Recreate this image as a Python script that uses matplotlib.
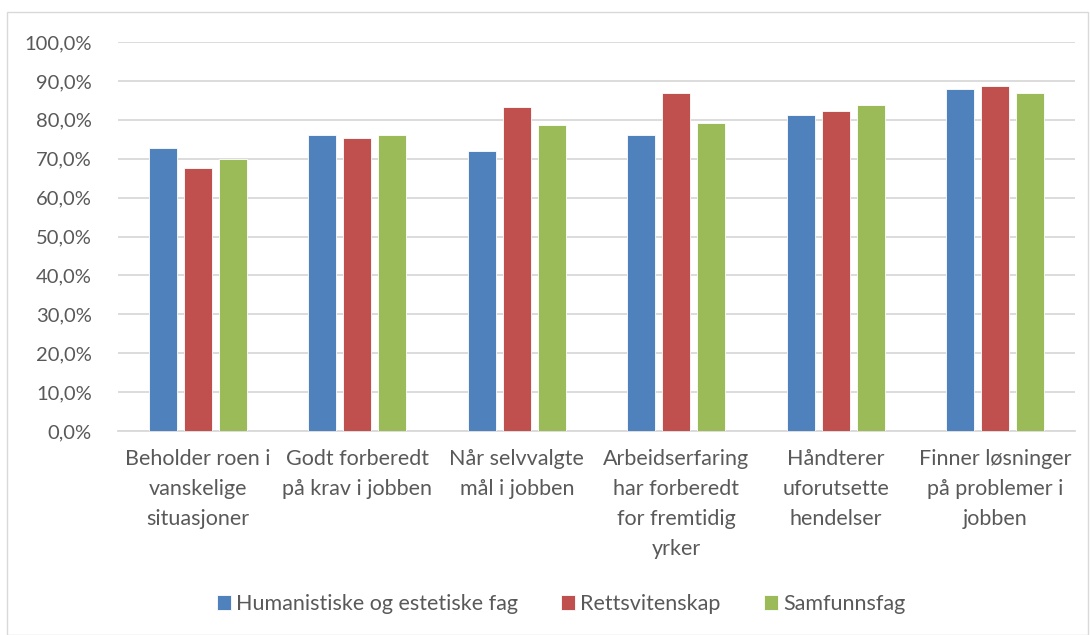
import matplotlib
matplotlib.use("Agg")
import matplotlib.pyplot as plt
import numpy as np
from matplotlib.patches import Rectangle

categories = [
    "Beholder roen i\nvanskelige\nsituasjoner",
    "Godt forberedt\npå krav i jobben",
    "Når selvvalgte\nmål i jobben",
    "Arbeidserfaring\nhar forberedt\nfor fremtidig\nyrker",
    "Håndterer\nuforutsette\nhendelser",
    "Finner løsninger\npå problemer i\njobben",
]
series_names = ["Humanistiske og estetiske fag", "Rettsvitenskap", "Samfunnsfag"]
humanistiske = [72.8, 76.1, 72.1, 76.1, 81.2, 87.9]
rettsvitenskap = [67.7, 75.3, 83.2, 86.9, 82.2, 88.7]
samfunnsfag = [69.9, 76.1, 78.7, 79.2, 83.9, 86.8]
yticks = list(range(0, 101, 10))
colors = ["#4F81BD", "#C0504D", "#9BBB59"]

plt.rcParams['font.family'] = ['Lato', 'DejaVu Sans']
text_color = "#595959"

fig = plt.figure(figsize=(10.9, 6.35), dpi=100)
ax = fig.add_axes([118/1090, 1-431/635, (1075-118)/1090, (431-42)/635])

x = np.arange(len(categories))
pitch = 0.22
width = 0.176
for i, (vals, name, c) in enumerate(zip([humanistiske, rettsvitenskap, samfunnsfag], series_names, colors)):
    ax.bar(x + (i-1)*pitch, vals, width, color=c, label=name, edgecolor="white", linewidth=0.6, zorder=3)

ax.set_xlim(-0.5, len(categories)-0.5)
ax.set_ylim(0, 100)
ax.set_yticks(yticks)
ax.set_yticklabels([f"{v},0%" for v in yticks], fontsize=14.5, color=text_color)
ax.yaxis.grid(True, color="#D9D9D9", linewidth=1.3, zorder=0)
ax.set_xticks(x)
ax.set_xticklabels(categories, fontsize=15.5, color=text_color, linespacing=1.62, va="top")
ax.tick_params(axis='y', length=0, pad=19)
ax.tick_params(axis='x', length=0, pad=13)
for s in ["top", "right", "left"]:
    ax.spines[s].set_visible(False)
ax.spines["bottom"].set_color("#D9D9D9")
ax.spines["bottom"].set_linewidth(1.3)

leg = fig.legend(loc="center", bbox_to_anchor=(561/1090, 1-604/635), ncol=3, frameon=False,
                 fontsize=15.5, handlelength=0.65, handleheight=0.65, handletextpad=0.25, columnspacing=2.0)
for t in leg.get_texts():
    t.set_color(text_color)

fig.patches.append(Rectangle((7/1090, 0), (1088-7)/1090, 1-12/635, transform=fig.transFigure,
                             fill=False, edgecolor="#D9D9D9", linewidth=1))

fig.savefig("out.png", dpi=100)
